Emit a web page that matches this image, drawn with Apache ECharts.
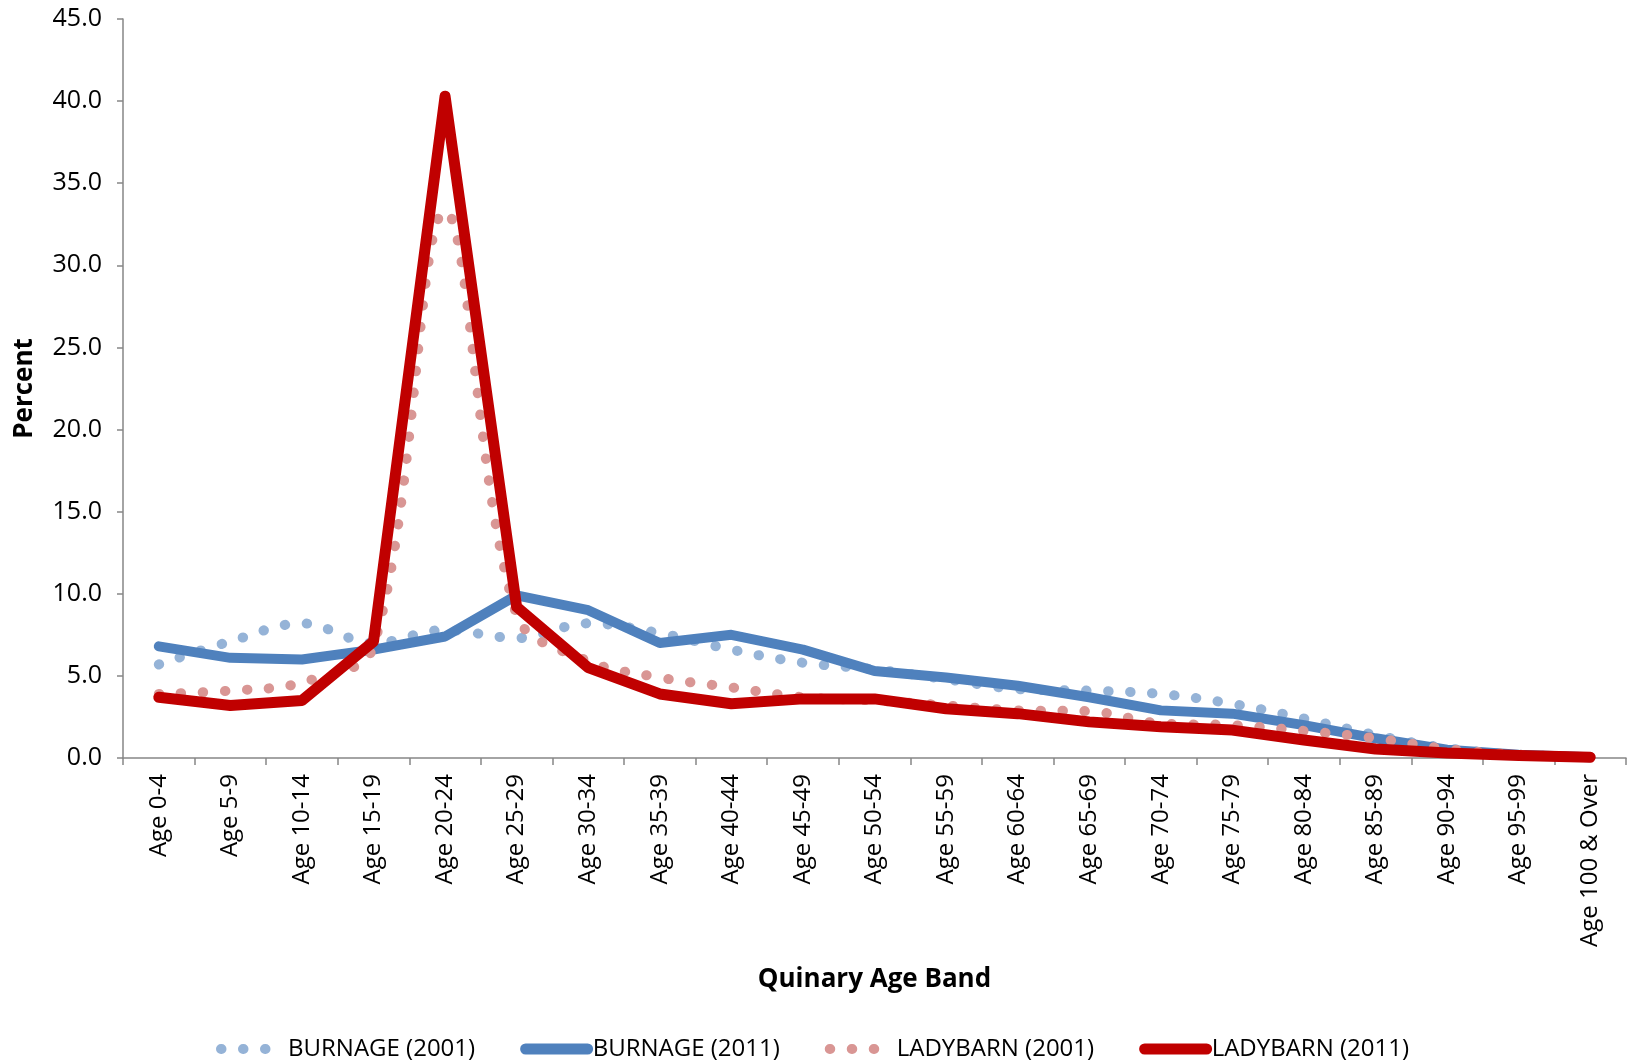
<!DOCTYPE html>
<html>
<head>
<meta charset="utf-8">
<title>Burnage / Ladybarn age bands</title>
<script src="https://cdn.jsdelivr.net/npm/echarts@6/dist/echarts.min.js"></script>
<style>
  html, body { margin: 0; padding: 0; background: #fff; }
  #chart { width: 1634px; height: 1064px; }
</style>
</head>
<body>
<div id="chart"></div>
<script>
// categories (x axis)
const ageBands = [
  'Age 0-4', 'Age 5-9', 'Age 10-14', 'Age 15-19', 'Age 20-24', 'Age 25-29',
  'Age 30-34', 'Age 35-39', 'Age 40-44', 'Age 45-49', 'Age 50-54', 'Age 55-59',
  'Age 60-64', 'Age 65-69', 'Age 70-74', 'Age 75-79', 'Age 80-84', 'Age 85-89',
  'Age 90-94', 'Age 95-99', 'Age 100 & Over'
]

// percent values
const burnage2001 = [5.7, 7.1, 8.2, 7.0, 7.8, 7.3, 8.2, 7.6, 6.6, 5.8, 5.4, 4.8, 4.2, 4.1, 3.9, 3.3, 2.4, 1.4, 0.6, 0.2, 0.05]
const burnage2011 = [6.8, 6.1, 6.0, 6.6, 7.4, 9.9, 9.0, 7.0, 7.5, 6.6, 5.3, 4.9, 4.4, 3.7, 2.9, 2.7, 2.0, 1.2, 0.5, 0.2, 0.05]
const ladybarn2001 = [3.9, 4.1, 4.6, 6.8, 33.3, 8.7, 5.9, 4.9, 4.3, 3.7, 3.5, 3.2, 2.9, 2.85, 2.1, 2.0, 1.65, 1.2, 0.55, 0.2, 0.05]
const ladybarn2011 = [3.7, 3.2, 3.5, 7.1, 40.3, 9.2, 5.5, 3.9, 3.3, 3.6, 3.6, 3.0, 2.7, 2.2, 1.9, 1.7, 1.1, 0.55, 0.3, 0.15, 0.05]

const seriesNames = ['BURNAGE (2001)', 'BURNAGE (2011)', 'LADYBARN (2001)', 'LADYBARN (2011)']

const font = "'Open Sans', 'Liberation Sans', sans-serif"
const axisGrey = '#868686'
const dotDash = [0.5, 21.5]

const chart = echarts.init(document.getElementById('chart'))

const dotted = (name, data, color) => ({
  name,
  type: 'line',
  data,
  symbol: 'none',
  smooth: 0.35,
  lineStyle: { color, width: 10, type: dotDash, cap: 'round', join: 'round' },
  itemStyle: { color },
})

const solid = (name, data, color, width) => ({
  name,
  type: 'line',
  data,
  symbol: 'none',
  lineStyle: { color, width, cap: 'round', join: 'round' },
  itemStyle: { color },
})

const option = {
  animation: false,
  grid: { left: 123, right: 8, top: 19, bottom: 306 },
  legend: {
    left: 216,
    top: 1037,
    padding: 0,
    itemWidth: 62,
    itemHeight: 14,
    itemGap: 45,
    textStyle: { fontFamily: font, fontSize: 24, color: '#000' },
    itemStyle: { opacity: 0 },
    data: [
      { name: seriesNames[0], lineStyle: { width: 10 } },
      { name: seriesNames[1], lineStyle: { width: 11 } },
      { name: seriesNames[2], lineStyle: { width: 10 } },
      { name: seriesNames[3], lineStyle: { width: 11 } },
    ],
  },
  xAxis: {
    type: 'category',
    data: ageBands,
    boundaryGap: true,
    name: 'Quinary Age Band',
    nameLocation: 'middle',
    nameGap: 209,
    nameTextStyle: { fontFamily: font, fontSize: 26, fontWeight: 'bold', color: '#000' },
    axisLine: { show: true, lineStyle: { color: axisGrey, width: 1.5 } },
    axisTick: { show: true, interval: 0, length: 7, lineStyle: { color: axisGrey, width: 1.5 } },
    axisLabel: { interval: 0, rotate: 90, margin: 16, fontFamily: font, fontSize: 24, color: '#000' },
    splitLine: { show: false },
  },
  yAxis: {
    type: 'value',
    min: 0,
    max: 45,
    interval: 5,
    name: 'Percent',
    nameLocation: 'middle',
    nameRotate: 90,
    nameGap: 85,
    nameTextStyle: { fontFamily: font, fontSize: 26, fontWeight: 'bold', color: '#000' },
    axisLine: { show: true, lineStyle: { color: axisGrey, width: 1.5 } },
    axisTick: { show: true, length: 6, lineStyle: { color: axisGrey, width: 1.5 } },
    axisLabel: {
      margin: 21,
      fontFamily: font,
      fontSize: 25,
      color: '#000',
      formatter: (v) => v.toFixed(1),
    },
    splitLine: { show: false },
  },
  series: [
    dotted(seriesNames[0], burnage2001, '#95B3D7'),
    solid(seriesNames[1], burnage2011, '#4F81BD', 10),
    dotted(seriesNames[2], ladybarn2001, '#D99694'),
    solid(seriesNames[3], ladybarn2011, '#C00000', 11),
  ],
}

chart.setOption(option)
</script>
</body>
</html>
